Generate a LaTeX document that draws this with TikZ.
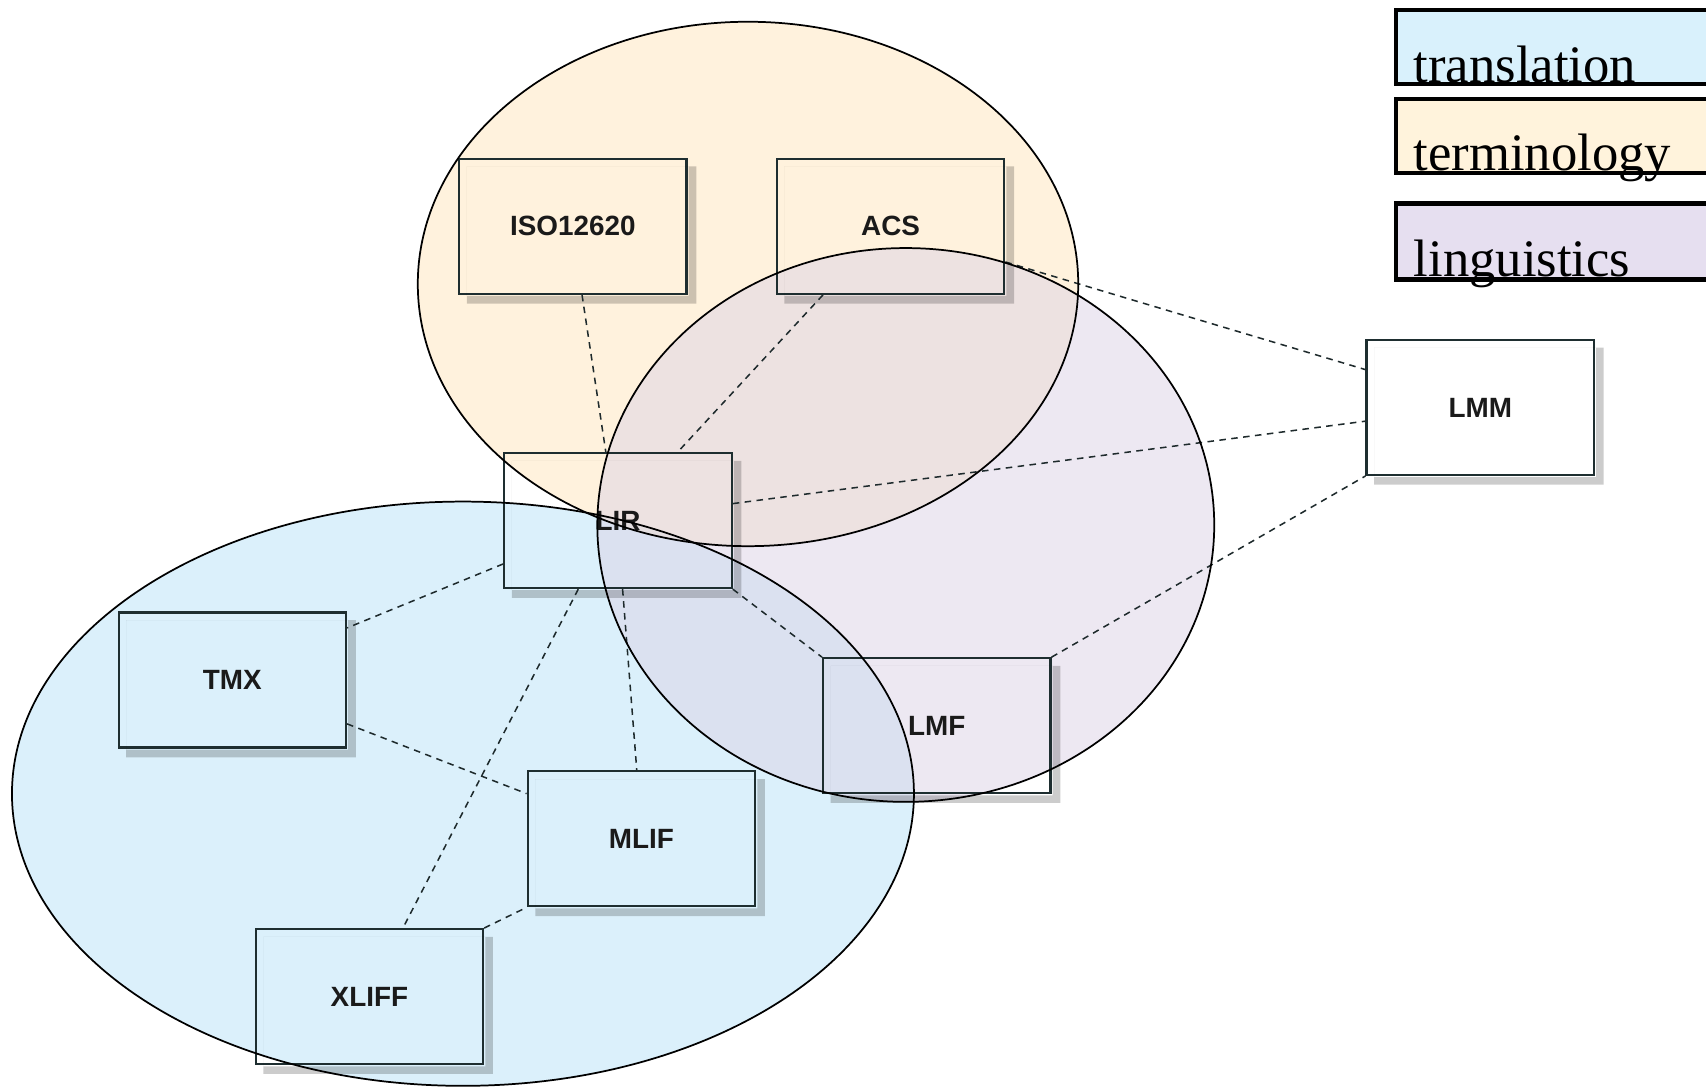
\documentclass[tikz,border=0pt]{standalone}
\usepackage{fontspec}
\setmainfont{Liberation Serif}
\newfontfamily\boxfont{Liberation Sans}
\usetikzlibrary{calc}
\definecolor{boxline}{HTML}{1E2E30}
\definecolor{labelC}{HTML}{1A1A1A}
\definecolor{connC}{HTML}{1E2A2C}
\definecolor{transF}{HTML}{B8E3F8}
\definecolor{termF}{HTML}{FFE6BC}
\definecolor{lingF}{HTML}{DCD3E6}
\definecolor{transL}{HTML}{D9F1FC}
\definecolor{termL}{HTML}{FFF3DC}
\definecolor{lingL}{HTML}{E6DFF0}
\begin{document}
\begin{tikzpicture}[x=0.5pt,y=-0.5pt,
  stdbox/.style={draw=boxline, line width=1pt, minimum width=104.5pt,
    minimum height=62pt, inner sep=0pt,
    font=\boxfont\bfseries\fontsize{12.8}{14}\selectfont, text=labelC},
  conn/.style={draw=connC, line width=0.7pt, dash pattern=on 3pt off 2.5pt},
  regionfill/.style={fill opacity=0.5},
  regionline/.style={draw=black, line width=0.8pt},
  legendbox/.style={draw=black, line width=2pt, anchor=north west, minimum width=170pt,
    inner sep=0pt},
  legendtext/.style={anchor=base west, inner sep=0pt, font=\fontsize{24.2}{28}\selectfont}
]
\clip (0,0) rectangle (1568,999);
\fill[white] (0,0) rectangle (1568,999);

% region fills
\fill[regionfill, transF] (425.5,729.5) ellipse [x radius=207.25pt, y radius=134.25pt];
\fill[regionfill, termF] (687.5,261) ellipse [x radius=151.75pt, y radius=120.5pt];
\fill[regionfill, lingF] (832.5,482.5) ellipse [x radius=141.75pt, y radius=127.25pt];

% boxes
\node[stdbox] (iso) at (526.5,208) {ISO12620};
\node[stdbox] (acs) at (818.5,208) {ACS};
\node[stdbox] (lir) at (568,478.5) {LIR};
\node[stdbox] (lmm) at (1360.5,374.5) {LMM};
\node[stdbox] (tmx) at (213.5,625) {TMX};
\node[stdbox] (lmf) at (861,667) {LMF};
\node[stdbox] (mlif) at (589.5,771) {MLIF};
\node[stdbox] (xliff) at (339.5,916) {XLIFF};

% shadows (L-shaped, outside the boxes)
\foreach \b in {iso,acs,lir,lmm,tmx,lmf,mlif,xliff}{
  \fill[black, opacity=0.2, even odd rule]
    ([shift={(4pt,-4pt)}]\b.south west) rectangle ([shift={(4pt,-4pt)}]\b.north east)
    ([shift={(4pt,-0.5pt)}]\b.south west) rectangle ([shift={(0.5pt,-4pt)}]\b.north east);
}

% connectors
\draw[conn] ($(iso.south west)!0.54!(iso.south east)$) -- ($(lir.north west)!0.447!(lir.north east)$);
\draw[conn] ($(acs.south west)!0.206!(acs.south east)$) -- ($(lir.north west)!0.76!(lir.north east)$);
\draw[conn] ($(acs.north east)!0.76!(acs.south east)$) -- ($(lmm.north west)!0.224!(lmm.south west)$);
\draw[conn] ($(lir.north east)!0.376!(lir.south east)$) -- ($(lmm.north west)!0.6!(lmm.south west)$);
\draw[conn] (lmf.north east) -- (lmm.south west);
\draw[conn] (lir.south east) -- (lmf.north west);
\draw[conn] ($(lir.north west)!0.816!(lir.south west)$) -- ($(tmx.north east)!0.12!(tmx.south east)$);
\draw[conn] ($(lir.south west)!0.52!(lir.south east)$) -- ($(mlif.north west)!0.48!(mlif.north east)$);
\draw[conn] ($(lir.south west)!0.327!(lir.south east)$) -- ($(xliff.north west)!0.646!(xliff.north east)$);
\draw[conn] ($(tmx.north east)!0.82!(tmx.south east)$) -- ($(mlif.north west)!0.17!(mlif.south west)$);
\draw[conn] (xliff.north east) -- (mlif.south west);

% region outlines
\draw[regionline] (425.5,729.5) ellipse [x radius=207.25pt, y radius=134.25pt];
\draw[regionline] (687.5,261) ellipse [x radius=151.75pt, y radius=120.5pt];
\draw[regionline] (832.5,482.5) ellipse [x radius=141.75pt, y radius=127.25pt];

% legend
\node[legendbox, fill=transL, minimum height=34pt] (legT) at (1281,7) {};
\node[legendtext] (legTt) at (1299,76) {translation};
\node[legendbox, fill=termL, minimum height=34pt] (legM) at (1281,89) {};
\node[legendtext] (legMt) at (1299,157) {terminology};
\node[legendbox, fill=lingL, minimum height=35pt] (legL) at (1281,185) {};
\node[legendtext] (legLt) at (1299,254) {linguistics};
\end{tikzpicture}
\end{document}
